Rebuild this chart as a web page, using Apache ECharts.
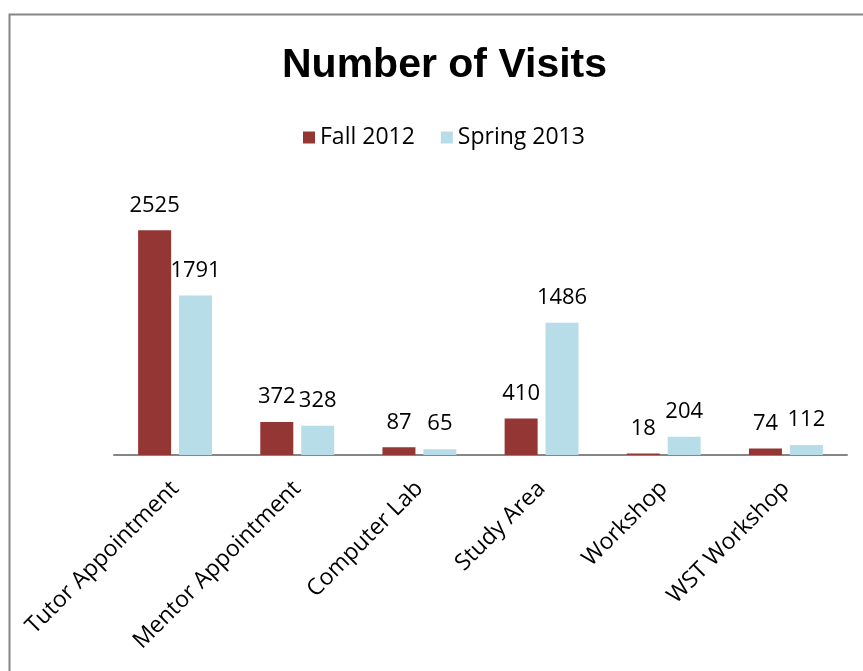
<!DOCTYPE html>
<html><head><meta charset="utf-8">
<script src="https://cdn.jsdelivr.net/npm/echarts@6/dist/echarts.min.js"></script>
<style>html,body{margin:0;padding:0;background:#fff}#c{width:863px;height:671px}</style>
</head><body><div id="c"></div>
<script>
const categories = ['Tutor Appointment','Mentor Appointment','Computer Lab','Study Area','Workshop','WST Workshop'];
const fall2012 = [2525, 372, 87, 410, 18, 74];
const spring2013 = [1791, 328, 65, 1486, 204, 112];
const seriesNames = ['Fall 2012','Spring 2013'];
const FONT = '"Open Sans", "Noto Sans", sans-serif';
const chart = echarts.init(document.getElementById('c'));
const lbl = {show:true, position:'top', distance:14, color:'#000', fontSize:22, fontFamily:FONT};
chart.setOption({
  animation:false,
  graphic:[{type:'rect', left:7, top:12, shape:{width:900, height:700}, style:{fill:'none', stroke:'#868686', lineWidth:2}}],
  title:{text:'Number of Visits', left:277, top:40, textStyle:{fontSize:41, fontWeight:'bold', color:'#000', fontFamily:'"Liberation Sans", Arial, sans-serif'}},
  legend:{data:seriesNames, top:121, left:298, itemWidth:12, itemHeight:12, itemGap:26, icon:'rect', textStyle:{fontSize:23, color:'#000', fontFamily:FONT}},
  grid:{left:114, right:16, top:188, bottom:216, containLabel:false},
  xAxis:{type:'category', data:categories, axisLine:{lineStyle:{color:'#868686', width:2}}, axisTick:{show:false},
    axisLabel:{rotate:45, interval:0, fontSize:23, color:'#000', fontFamily:FONT, margin:30}},
  yAxis:{type:'value', min:0, max:3000, show:false, splitLine:{show:false}},
  series:[
    {name:seriesNames[0], type:'bar', data:fall2012, barWidth:33, barGap:'24%', itemStyle:{color:'#943634'}, label:lbl},
    {name:seriesNames[1], type:'bar', data:spring2013, barWidth:33, itemStyle:{color:'#B7DDE8'}, label:lbl}
  ]
});
</script></body></html>
